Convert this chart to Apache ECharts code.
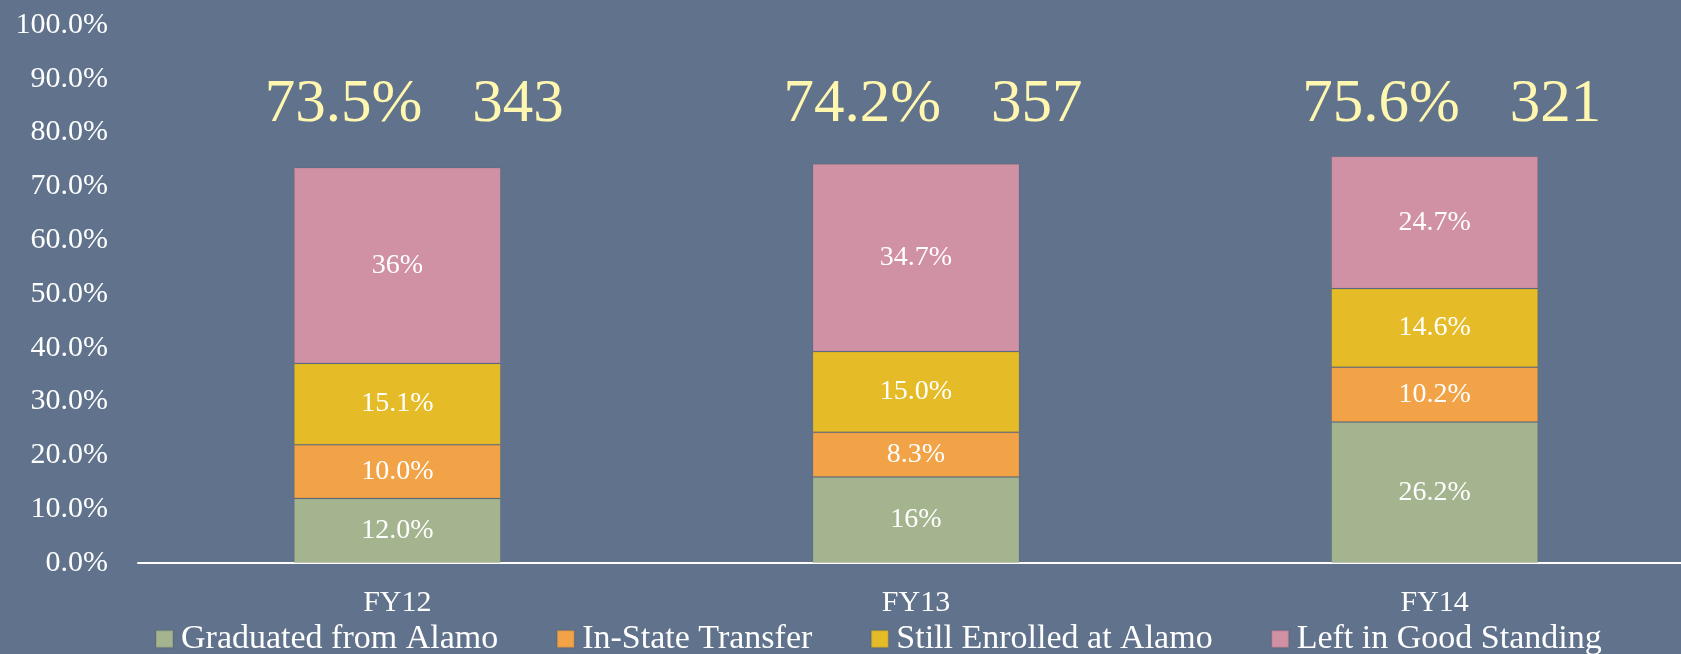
<!DOCTYPE html>
<html>
<head>
<meta charset="utf-8">
<script src="https://cdn.jsdelivr.net/npm/echarts@6/dist/echarts.min.js"></script>
<style>
  html, body { margin: 0; padding: 0; background: #61738c; overflow: hidden; }
  #chart { width: 1694px; height: 654px; }
</style>
</head>
<body>
<div id="chart"></div>
<script>
// categories and stacked shares (%)
var years = ['FY12', 'FY13', 'FY14']
var graduated = [12.0, 16.0, 26.2]
var transfer = [10.0, 8.3, 10.2]
var enrolled = [15.1, 15.0, 14.6]
var goodStanding = [36.4, 34.9, 24.6]
// labels as printed in the bars
var graduatedText = ['12.0%', '16%', '26.2%']
var transferText = ['10.0%', '8.3%', '10.2%']
var enrolledText = ['15.1%', '15.0%', '14.6%']
var goodStandingText = ['36%', '34.7%', '24.7%']
// headline numbers above each bar
var totalRate = ['73.5%', '74.2%', '75.6%']
var cohortSize = [343, 357, 321]
var yTicks = [0, 10, 20, 30, 40, 50, 60, 70, 80, 90, 100]

var serifFont = '"Liberation Serif", "DejaVu Serif", serif'
var headlineLevel = 85.2

function segment (name, values, texts, color) {
  return {
    name: name,
    type: 'bar',
    stack: 'total',
    barWidth: 207,
    data: values,
    itemStyle: {
      color: color,
      borderColor: 'rgba(0, 0, 0, 0.08)',
      borderWidth: 1
    },
    label: {
      show: true,
      position: 'inside',
      color: '#ffffff',
      fontFamily: serifFont,
      fontSize: 28,
      formatter: function (p) { return texts[p.dataIndex] }
    }
  }
}

var chart = echarts.init(document.getElementById('chart'))
chart.setOption({
  backgroundColor: '#61738c',
  animation: false,
  grid: {
    left: 138,
    right: 0,
    top: 25,
    bottom: 91
  },
  legend: {
    data: ['Graduated from Alamo', 'In-State Transfer', 'Still Enrolled at Alamo', 'Left in Good Standing'],
    left: 155,
    top: 622,
    padding: 0,
    icon: 'rect',
    itemWidth: 17,
    itemHeight: 17,
    itemGap: 58,
    textStyle: {
      color: '#ffffff',
      fontFamily: serifFont,
      fontSize: 34,
      padding: [0, 0, 0, 3]
    }
  },
  xAxis: {
    type: 'category',
    data: years,
    axisLine: { show: true, lineStyle: { color: '#ffffff', width: 2 } },
    axisTick: { show: false },
    axisLabel: {
      color: '#ffffff',
      fontFamily: serifFont,
      fontSize: 30,
      margin: 25
    }
  },
  yAxis: {
    type: 'value',
    min: yTicks[0],
    max: yTicks[yTicks.length - 1],
    interval: 10,
    splitLine: { show: false },
    axisLine: { show: false },
    axisTick: { show: false },
    axisLabel: {
      color: '#ffffff',
      fontFamily: serifFont,
      fontSize: 30,
      margin: 30,
      formatter: function (v) { return v.toFixed(1) + '%' }
    }
  },
  series: [
    segment('Graduated from Alamo', graduated, graduatedText, '#a4b48f'),
    segment('In-State Transfer', transfer, transferText, '#f2a347'),
    segment('Still Enrolled at Alamo', enrolled, enrolledText, '#e5bc27'),
    segment('Left in Good Standing', goodStanding, goodStandingText, '#d191a5'),
    {
      name: 'headline',
      type: 'scatter',
      symbolSize: 1,
      itemStyle: { color: 'rgba(0,0,0,0)' },
      data: years.map(function (y) { return [y, headlineLevel] }),
      label: {
        show: true,
        position: 'inside',
        offset: [17, 0],
        opacity: 1,
        formatter: function (p) {
          return '{a|' + totalRate[p.dataIndex] + '}{b|' + cohortSize[p.dataIndex] + '}'
        },
        rich: {
          a: { color: '#fff7b0', fontFamily: serifFont, fontSize: 61, padding: [0, 50, 0, 0] },
          b: { color: '#fff7b0', fontFamily: serifFont, fontSize: 61 }
        }
      }
    }
  ]
})
</script>
</body>
</html>
